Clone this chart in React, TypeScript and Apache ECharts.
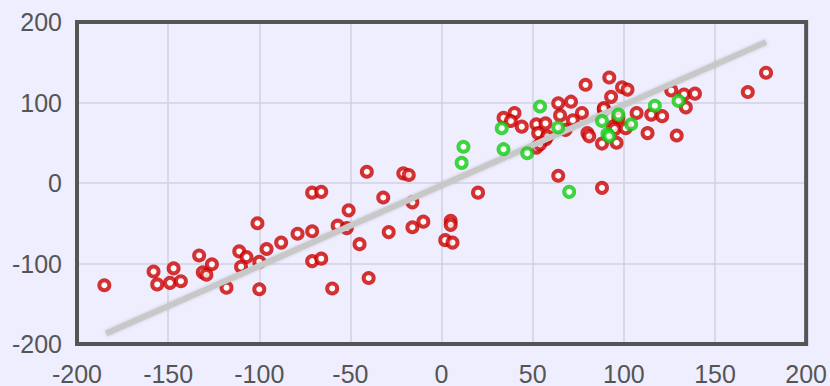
import React, { useEffect, useRef } from "react";
import * as echarts from "echarts";

const xTicks = [-200, -150, -100, -50, 0, 50, 100, 150, 200];
const yTicks = [-200, -100, 0, 100, 200];

const redPoints: [number, number][] = [
  [-185, -127], [-158, -110], [-156, -126], [-147, -106], [-149, -124], [-143, -122],
  [-133, -90], [-126, -101], [-131, -111], [-129, -114], [-118, -130], [-111, -85],
  [-107, -92], [-110, -104], [-101, -50], [-100, -98], [-100, -132], [-96, -82],
  [-88, -74], [-79, -63], [-71, -60], [-71, -12], [-66, -11], [-71, -97], [-66, -94],
  [-60, -131], [-57, -53], [-52, -56], [-51, -34], [-45, -76], [-41, 14], [-40, -118],
  [-32, -18], [-29, -61], [-21, 12], [-18, 10], [-16, -24], [-16, -55], [-10, -48],
  [2, -71], [5, -47], [5, -52], [6, -74], [20, -12], [34, 81], [40, 87], [38, 77],
  [44, 70], [52, 73], [57, 74], [52, 44], [57, 54], [53, 62], [58, 58], [64, 99],
  [71, 101], [65, 84], [77, 87], [72, 78], [68, 66], [79, 122], [80, 62], [81, 58],
  [92, 131], [99, 119], [102, 116], [93, 107], [89, 91], [88, 49], [96, 50], [97, 81],
  [94, 70], [95, 67], [101, 68], [107, 87], [113, 62], [115, 85], [121, 83], [126, 115],
  [133, 110], [139, 111], [134, 94], [129, 59], [168, 113], [178, 137], [88, -6],
  [64, 9], [54, 48], [89, 93],
];

const greenPoints: [number, number][] = [
  [12, 45], [11, 25], [33, 68], [34, 42], [47, 37], [54, 95], [64, 69], [70, -11],
  [88, 77], [97, 85], [91, 61], [92, 58], [104, 73], [117, 96], [130, 102],
];

const trendLine: [number, number][] = [
  [-184, -187],
  [178, 175],
];

const FONT = "'Liberation Sans', Arial, sans-serif";

export default function App() {
  const ref = useRef<HTMLDivElement>(null);
  useEffect(() => {
    if (!ref.current) return;
    const chart = echarts.init(ref.current, null, { renderer: "svg" });
    const labelStyle = {
      color: "#555",
      fontSize: 25,
      fontFamily: FONT,
    };
    chart.setOption({
      animation: false,
      backgroundColor: "#eeeeff",
      grid: {
        left: 77,
        right: 23,
        top: 22,
        bottom: 40,
        show: true,
        z: 10,
        backgroundColor: "transparent",
        borderColor: "#555555",
        borderWidth: 4,
      },
      xAxis: {
        type: "value",
        min: xTicks[0],
        max: xTicks[xTicks.length - 1],
        interval: 50,
        axisLine: { show: false },
        axisTick: { show: false },
        splitLine: { show: true, lineStyle: { color: "#d0d0e0", width: 1.5 } },
        axisLabel: { ...labelStyle, margin: 17, showMinLabel: true, showMaxLabel: true },
      },
      yAxis: {
        type: "value",
        min: yTicks[0],
        max: yTicks[yTicks.length - 1],
        interval: 100,
        axisLine: { show: false },
        axisTick: { show: false },
        splitLine: { show: true, lineStyle: { color: "#d0d0e0", width: 1.5 } },
        axisLabel: { ...labelStyle, margin: 15 },
      },
      series: [
        {
          type: "scatter",
          data: redPoints,
          symbol: "circle",
          symbolSize: 10,
          itemStyle: { color: "#ffffff", borderColor: "#cc0000", borderWidth: 4 },
          z: 2,
        },
        {
          type: "line",
          data: trendLine,
          symbol: "none",
          lineStyle: {
            color: "#c8c8c8",
            width: 6,
            shadowColor: "rgba(0,0,0,0.2)",
            shadowBlur: 3,
          },
          z: 3,
        },
        {
          type: "scatter",
          data: greenPoints,
          symbol: "circle",
          symbolSize: 10,
          itemStyle: { color: "#ffffff", borderColor: "#11cc11", borderWidth: 4 },
          z: 4,
        },
      ],
    });
    return () => chart.dispose();
  }, []);
  return (
    <div
      ref={ref}
      style={{ position: "fixed", left: 0, top: 0, width: 830, height: 386, background: "#eeeeff" }}
    />
  );
}
